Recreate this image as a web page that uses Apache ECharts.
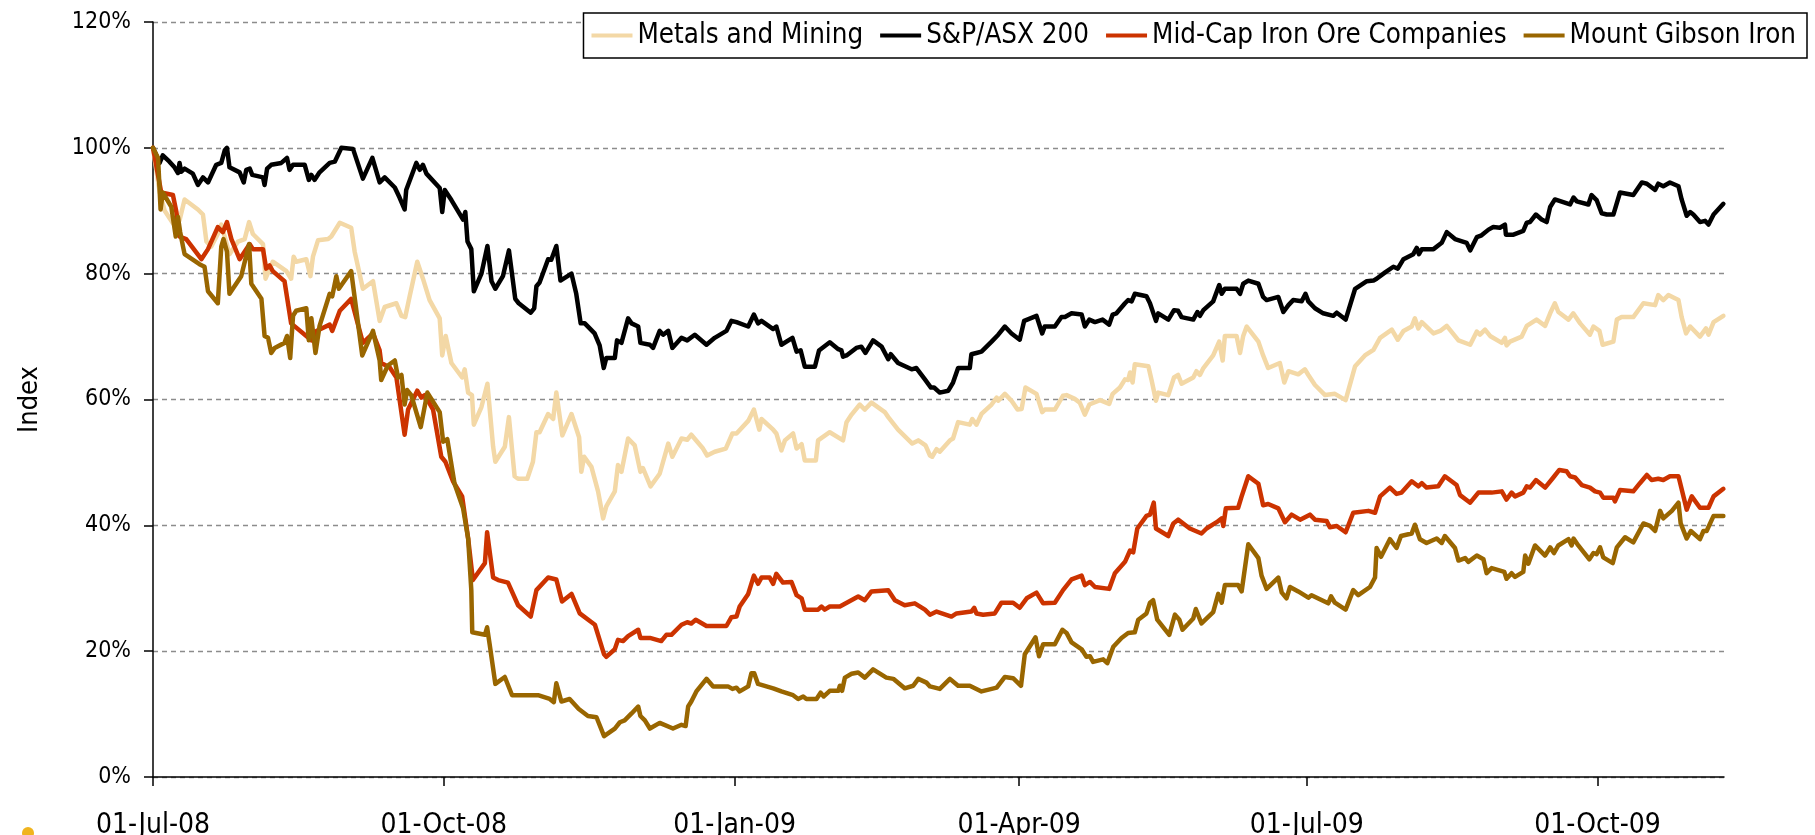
<!DOCTYPE html>
<html>
<head>
<meta charset="utf-8">
<script src="https://cdn.jsdelivr.net/npm/echarts@6/dist/echarts.min.js"></script>
<style>
  html, body { margin: 0; padding: 0; background: #fff; }
  #chart { width: 1815px; height: 835px; }
</style>
</head>
<body>
<div id="chart"></div>
<script>
// x values are days since 01-Jul-08, y values are index in %
var seriesNames = ['Metals and Mining', 'S&P/ASX 200', 'Mid-Cap Iron Ore Companies', 'Mount Gibson Iron'];
var seriesColors = ['#F3D8A6', '#000000', '#CC3300', '#996600'];

var tickDays = [0, 92, 184, 274, 365, 457];
var tickLabels = ['01-Jul-08', '01-Oct-08', '01-Jan-09', '01-Apr-09', '01-Jul-09', '01-Oct-09'];

var metals = [
    [0,100],[2.1,93],[3.7,90],[6.3,88],[8.4,88.5],[10,91.8],[12.1,91],[14.2,90.2],[15.8,89.4],[16.9,85.1],[18.4,84.3],
    [20.5,86.3],[21.6,87.8],[24.2,83.1],[26.9,85.1],[29,85.5],[30.4,88.2],[31.6,86.3],[34.8,84.7],[35.6,79.2],[37.9,81.9],
    [42.2,80.4],[43.7,79.2],[44.5,82.7],[45.3,81.9],[48.5,82.3],[49.8,79.6],[50.6,82.7],[52.2,85.3],[55.4,85.5],[56.4,85.9],
    [59.1,88.1],[62.7,87.3],[63.8,83.5],[66.4,77.6],[69.6,78.8],[71.7,72.5],[73.3,74.7],[77,75.3],[78.6,73.3],[79.8,73.1],
    [81.2,76.4],[83.6,81.9],[85.4,79.2],[87.5,75.8],[90.7,72.9],[91.5,67],[92.6,70.1],[94.4,65.8],[97.8,63.5],[98.6,64.8],
    [99.7,61.1],[100.9,60.7],[101.5,56],[103.9,58.8],[105.8,62.5],[107.6,52.5],[108.3,50.1],[111.3,52.5],[112.6,57.2],
    [114.4,47.8],[115.5,47.4],[118.4,47.4],[120.2,50.1],[121.3,54.8],[122.3,54.8],[125,57.7],[126.6,56.9],[127.6,61.1],
    [129.5,54.3],[132.4,57.7],[134.8,54],[135.5,48.5],[136.4,50.9],[138.7,49.3],[140.8,45.4],[142.4,41.1],[143.4,43],
    [146.1,45.4],[147.1,49.6],[148.2,48.5],[150.3,53.8],[152.4,52.7],[154.2,48.5],[155,49.1],[157.4,46.2],[160.3,48.2],
    [163,53],[164.3,50.9],[167.2,53.8],[169,53.6],[170.3,54.4],[174,52.2],[175.3,51.1],[177.7,51.7],[181.2,52.2],[183.3,54.6],
    [184.6,54.6],[188.3,56.6],[190.1,58.4],[191.8,55.2],[192.5,56.9],[196.2,55.2],[197.2,54.6],[198.8,51.9],[199.9,53.5],
    [202.5,54.6],[203.6,52.2],[205.2,52.9],[206.2,50.3],[209.7,50.3],[210.4,53.5],[214.1,54.8],[218.3,53.5],[219.4,56.4],
    [221,57.6],[223.6,59.2],[225.2,58.4],[227.3,59.5],[231.5,58],[232.6,57.2],[235.7,55.2],[240.2,53],[242.1,53.5],[244.4,52.7],
    [245.8,51.1],[246.5,50.9],[247.9,52.1],[248.9,51.7],[252.1,53.5],[253.1,53.8],[254.7,56.4],[258.4,56],[259.2,56.9],
    [260.5,56],[262.1,57.7],[265.3,59.2],[266.9,60.3],[267.4,59.8],[269.5,60.9],[271.6,59.8],[273.5,58.4],[274.8,58.5],
    [276,61.9],[279.5,60.9],[281.3,58],[282.1,58.4],[285.3,58.4],[287.9,60.6],[289,60.7],[291.6,60.1],[293.2,59.5],[294.8,57.6],
    [296.2,59.2],[299.6,59.9],[302.5,59.3],[303.6,60.9],[305.9,61.9],[307.5,63.2],[308.5,63.1],[309.1,64.3],[309.9,62.7],
    [310.6,65.6],[314.9,65.3],[315.9,63.1],[317.3,59.8],[318,61.1],[321.2,60.7],[323,63.5],[324.3,63.9],[325.4,62.5],
    [329.1,63.5],[330.1,64.5],[331.2,63.9],[332.3,65],[335.4,67],[337.3,69.2],[338.4,66.2],[339.1,70.1],[342.8,70.1],
    [343.9,67.4],[344.9,70.1],[346,71.6],[349.7,69.2],[351.2,67],[352.8,65],[356.5,65.8],[357.9,62.7],[359.2,64.5],[362.3,64],
    [364.4,64.8],[365.5,63.9],[367.6,62.3],[370.8,60.7],[373.9,60.9],[377.3,59.9],[380.3,65.3],[383.4,67],[386.1,67.9],
    [388.2,69.8],[391.9,71.1],[393.8,69.5],[395.6,70.9],[398.2,71.6],[399.2,72.9],[400.3,71.3],[401.4,72.3],[405.1,70.5],
    [407.2,70.9],[409.3,71.7],[413,69.4],[416.7,68.7],[418.8,70.8],[419.8,70.3],[421.4,71.1],[423,70.1],[426.7,69],[427.7,69.8],
    [428.2,68.6],[429.3,69.2],[433,70],[434.6,71.7],[437.7,72.7],[440.4,71.7],[442,73.7],[443.5,75.3],[444.6,73.9],[447.8,72.7],
    [449.3,73.7],[451.5,72.1],[454.6,70.3],[455.7,71.6],[457.6,70.9],[458.6,68.7],[462,69.2],[463.1,72.7],[464.6,73.1],
    [468.3,73.1],[471.5,75.3],[475.2,75],[476.2,76.6],[477.8,75.8],[479.4,76.6],[482.6,75.8],[483.6,73.1],[485,70.5],
    [486.3,71.6],[489.4,70],[491.3,71.3],[492.1,70.3],[493.7,72.3],[496.8,73.3]
];

var asx200 = [
    [0,100],[2.1,97.6],[3.1,98.8],[5.2,97.8],[6.8,96.9],[7.9,96],[8.4,97.6],[8.9,96.2],[10,96.7],[12.6,95.9],[14.2,94.1],
    [15.8,95.3],[17.4,94.5],[20,97.3],[21.6,97.6],[22.7,99.6],[23.4,100],[24.2,96.9],[27.4,96.1],[28.7,94.5],[29.5,96.5],
    [30.6,96.7],[31.4,95.7],[34.8,95.3],[35.3,94.1],[36.1,96.7],[37.4,97.3],[40.6,97.6],[42.4,98.4],[43.2,96.5],[44.3,97.3],
    [48,97.3],[49.3,94.9],[50.1,95.7],[51.1,94.9],[52.7,96.1],[55.9,97.6],[57.5,97.8],[59.6,100],[63.3,99.8],[66.4,95.1],
    [69.4,98.4],[71.7,94.5],[73.3,95.3],[76.5,93.7],[78,92.1],[79.6,90.2],[80.1,93.3],[83.3,97.6],[84.4,96.5],[85.4,97.3],
    [86.5,95.9],[90.7,93.6],[91.5,89.8],[92.3,93.3],[94.4,91.7],[98.1,88.6],[98.8,89.8],[99.5,85.1],[100.7,83.9],[101.5,77.2],
    [103.9,80],[105.8,84.4],[107.1,78.8],[108.3,77.6],[110.7,79.6],[112.6,83.7],[114.6,76],[115.7,75.3],[119.5,73.8],
    [120.6,74.5],[121.3,78],[122.3,78.6],[125,82.3],[126,82.2],[127.6,84.4],[128.9,78.9],[132.4,80],[133.9,76.8],[135.3,72.1],
    [136.6,72.1],[139.7,70.5],[141.3,68.6],[142.6,65],[143.4,66.6],[146.1,66.6],[146.8,69.4],[148.2,69],[150.3,72.9],
    [151.4,72.1],[153.5,71.6],[154.2,69],[157.2,68.7],[158.2,68.2],[160.3,70.9],[161.4,70.3],[163,70.9],[164.3,68.2],
    [167.2,69.8],[169,69.4],[171.4,70.3],[175.1,68.7],[177.7,69.8],[181.4,70.9],[183,72.5],[184.6,72.3],[188.3,71.6],
    [190.1,73.5],[191.4,72.1],[192.5,72.5],[196.2,71.2],[197.2,71.6],[198.8,68.7],[202.3,69.8],[203.6,67.6],[204.9,67.8],
    [206.2,65.2],[209.4,65.2],[210.7,67.8],[214.1,69.1],[216.8,68],[217.8,67.8],[218.3,66.8],[219.4,67],[222.5,68.2],
    [224.1,68.4],[225.4,67.4],[227.8,69.4],[230.5,68.4],[232.6,66.4],[233.4,67.2],[235.7,65.8],[240,64.8],[241.5,65],
    [244.2,63.2],[246.1,61.9],[247.1,61.9],[248.9,61.1],[251.6,61.4],[253.1,62.7],[254.7,65],[258.4,65],[258.9,67.2],
    [260.5,67.4],[262.1,67.6],[265.3,69.2],[267.4,70.3],[269.5,71.6],[271.6,70.5],[274.2,69.5],[275.6,72.5],[279.5,73.3],
    [281.3,70.5],[282.1,71.6],[285.3,71.6],[287.4,73.1],[288.5,73.1],[290.6,73.7],[293.8,73.5],[294.8,71.6],[296.2,72.7],
    [298,72.3],[300.4,72.7],[302.5,71.9],[303.6,73.5],[304.8,73.7],[307.5,75.3],[308.5,75.8],[309.6,75.6],[310.6,76.8],
    [314.3,76.4],[315.4,75.3],[317.3,72.5],[318,73.7],[321.2,72.7],[323,74.2],[324.3,74.1],[325.4,73.1],[329.1,72.7],
    [330.4,73.9],[331.2,73.3],[332.3,74.2],[335.4,75.6],[337.3,78.2],[338.1,76.8],[339.1,77.6],[342.8,77.6],[343.9,76.8],
    [344.9,78.4],[346.5,78.9],[349.7,78.4],[351.2,76.3],[352.3,75.8],[356,76.3],[357.6,73.9],[359.2,75],[360.7,75.8],
    [363.4,75.6],[364.6,76.8],[365.5,75.6],[367.6,74.5],[370.2,73.7],[373.4,73.3],[374.5,73.8],[377.3,72.7],[380.3,77.6],
    [384,78.8],[386.1,78.9],[387.1,79.2],[389.8,80.2],[392.4,81.1],[393.8,80.8],[395.6,82.3],[398.7,83.1],[399.8,84.1],
    [400.5,83.1],[401.4,83.9],[405.1,83.9],[407.7,84.9],[409.3,86.6],[411.9,85.5],[415.6,84.9],[416.7,83.7],[418.8,85.8],
    [420.3,86.1],[422.5,87],[424,87.4],[426.1,87.3],[427.7,87.8],[428,86.2],[430.4,86.2],[433.5,86.8],[434.6,88.1],
    [435.6,88.2],[437.5,89.4],[439.3,88.6],[440.9,88.2],[442,90.6],[443.5,91.8],[448.3,91],[449.4,92.1],[450.4,91.5],
    [454.1,91],[455.1,92.5],[456.7,91.7],[458.3,89.6],[459.9,89.4],[462,89.4],[464.1,92.9],[468.3,92.5],[471,94.5],
    [472.6,94.3],[475.2,93.3],[476.2,94.3],[477.8,93.9],[479.9,94.5],[482.6,93.9],[483.6,91.8],[485.2,89.2],[486.3,89.8],
    [487.3,89.4],[489.4,88.2],[491,88.4],[492.1,87.8],[493.7,89.4],[496.8,91.1]
];

var midCap = [
    [0,100],[2.6,92.9],[6.3,92.5],[7.4,89.8],[8.4,85.9],[10.5,85.5],[15.3,82.3],[17.4,83.9],[20.5,87.4],[22.1,86.6],
    [23.4,88.2],[24.8,85.5],[27.4,82.3],[30.6,84.7],[31.6,83.9],[34.8,83.9],[35.8,80.8],[36.9,81.3],[37.9,80.4],[41.6,78.8],
    [43.7,72.1],[48.5,70.1],[50.1,69.4],[51.7,70.9],[55.9,71.9],[56.7,70.9],[59.1,74.1],[62.7,76],[66.4,69],[69.6,70.5],
    [71.7,67.8],[72.2,65.8],[74.9,65.1],[77,63.5],[79.6,54.4],[80.7,58.4],[83.6,61.4],[84.9,60.3],[86,60.7],[88.6,58.4],
    [91.2,50.9],[92.5,50.1],[94.9,47],[97.8,44.6],[99.7,37.9],[101.2,31.3],[105,34],[105.7,38.9],[107.6,31.7],[109.2,31.3],
    [112.3,30.9],[115.5,27.3],[119.5,25.5],[121.3,29.7],[125,31.7],[127.6,31.4],[129.4,27.9],[132.4,29.1],[135,26],
    [139.8,24.2],[142.7,19.5],[143.4,19.1],[146.1,20.3],[147.1,21.8],[148.7,21.6],[150.3,22.4],[153.5,23.4],[154.2,22.1],
    [157.2,22.1],[160.8,21.6],[162.4,22.6],[164,22.6],[167.2,24.2],[169,24.6],[170.3,24.4],[171.7,25],[175.1,24],[181.4,24],
    [183,25.4],[184.6,25.5],[185.6,27.1],[188.3,29.1],[190.1,32],[191.4,30.7],[192.5,31.7],[195.1,31.7],[196.2,30.7],
    [197.2,32.3],[199.3,30.9],[202,31],[203.6,28.9],[205.2,28.4],[206.2,26.6],[210.4,26.6],[211.5,27.1],[212.5,26.6],
    [214.1,27.1],[217.3,27.1],[223.1,28.7],[225.2,28.1],[227.3,29.5],[232.6,29.7],[234.7,28.1],[237.8,27.3],[241,27.6],
    [244.2,26.6],[245.8,25.8],[247.9,26.3],[252.6,25.5],[254.2,26],[258.9,26.3],[259.8,26.9],[260.5,26],[262.6,25.8],
    [266.3,26],[268.4,27.7],[272.1,27.7],[274.2,26.9],[276.4,28.4],[279.5,29.3],[281.6,27.6],[285.3,27.7],[287.9,29.7],
    [290.6,31.4],[293.8,32],[294.8,30.5],[296.4,31],[298,30.2],[302.5,29.9],[304.3,32.4],[307.5,34.2],[309.1,36],[310.1,35.7],
    [311.4,39.5],[314.3,41.5],[315.4,41.7],[316.6,43.6],[317.3,39.5],[321.2,38.3],[322.8,40.3],[324.3,40.9],[328,39.5],
    [331.7,38.7],[333.3,39.5],[336.5,40.5],[338.1,41.1],[338.6,39.9],[339.4,42.7],[343.3,42.8],[344.4,44.6],[346.5,47.8],
    [349.7,46.6],[351.2,43.2],[352.8,43.4],[356,42.7],[358.1,40.5],[360.2,41.7],[362.9,40.9],[366,41.7],[367.6,40.9],
    [371.3,40.7],[372.3,39.7],[374.5,39.9],[377.3,38.9],[379.7,42],[384.5,42.3],[386.6,42],[388.2,44.6],[391.3,46],[393.4,45],
    [395,45.2],[398.2,47],[400.3,46.2],[401.4,46.7],[402.9,46],[406.6,46.2],[408.7,47.8],[412.4,46.4],[413.5,44.8],
    [416.7,43.6],[419.3,45.2],[423.5,45.2],[426.7,45.4],[428.2,44.1],[429.8,45.2],[430.9,44.6],[433.5,45.2],[434.6,46.2],
    [435.6,46],[437.5,47.2],[440.4,46],[443,47.6],[444.9,48.8],[447.2,48.6],[448.3,47.8],[449.9,47.6],[452,46.4],[454.6,46],
    [456.2,45.4],[457.8,45.2],[458.8,44.4],[462,44.4],[462.5,43.8],[464.1,45.6],[468.3,45.4],[470.4,46.7],[472.6,48],
    [474.1,47.2],[476.2,47.4],[477.8,47.2],[479.9,47.8],[482.6,47.8],[485.2,42.5],[486.8,44.6],[489.4,42.8],[492.1,42.8],
    [493.7,44.6],[496.8,45.8]
];

var mountGibson = [
    [0,100],[1.6,98.4],[2.4,90.2],[3.1,92.9],[5.8,90.6],[7.2,85.9],[7.9,89],[8.6,86.6],[9.5,84.3],[10,83.1],[14.7,81.5],
    [16.3,81.1],[17.4,77.2],[20.5,75.3],[21.6,84.3],[22.3,85.5],[23.4,83.5],[24.2,76.8],[27.9,79.6],[30.4,84.7],[31.1,78.4],
    [34.3,76],[35.3,70.1],[36.4,69.8],[37.4,67.4],[38.5,68.2],[41.6,69],[42.4,70.1],[43.4,66.6],[44.3,73.3],[45.3,74.1],
    [48.5,74.5],[49.3,69.4],[50.1,72.9],[51.4,67.4],[52.7,71.7],[55.9,76.8],[56.7,76.4],[58,79.6],[58.8,77.6],[59.9,78.4],
    [62.7,80.4],[66.2,67],[69.6,70.9],[71.7,66.2],[72.2,63.1],[74.3,65.4],[76.5,66.2],[77.5,63.5],[78.6,63.9],[79.6,59.2],
    [80.4,61.5],[81.7,60.7],[84.7,55.6],[86.8,61.1],[90.7,58],[91.8,53.3],[93.1,53.7],[95.4,46.6],[98.1,42.7],[99.7,37.9],
    [100.7,29.7],[101,23],[105,22.6],[105.7,23.8],[106.5,21.1],[108.3,14.8],[111.3,15.9],[113.6,13],[121.8,13],[125.5,12.4],
    [126.8,11.9],[127.6,14.9],[129.2,12],[131.8,12.4],[134.7,10.8],[137.6,9.7],[140.3,9.5],[142.7,6.5],[143.2,6.4],
    [146.1,7.7],[147.7,8.7],[149.2,9],[151.4,10.1],[153.5,11.2],[154.2,9.7],[155.6,9],[157.2,7.7],[160.3,8.6],[164.5,7.7],
    [167.2,8.3],[168.5,8.1],[169.3,11.2],[170.3,12],[171.9,13.6],[175.1,15.6],[177.2,14.4],[181.9,14.4],[183.3,14],
    [184.6,14.2],[185.6,13.6],[188.3,14.4],[189.3,16.5],[190.2,16.5],[191.4,14.8],[196.2,14.1],[198.8,13.6],[202.5,13],
    [204.1,12.4],[205.7,12.8],[206.7,12.4],[209.9,12.4],[211.2,13.4],[212.2,12.8],[214.1,13.7],[216.8,13.7],[217.3,14.5],
    [218,13.7],[218.9,15.8],[221,16.4],[223.1,16.6],[225.2,15.8],[227.8,17.1],[232,15.8],[234.2,15.6],[237.8,14.1],
    [240.5,14.5],[242.1,15.6],[244.7,15],[245.8,14.4],[248.9,14],[252.1,15.6],[254.7,14.5],[258.4,14.5],[262.1,13.6],
    [266.9,14.2],[269.5,15.9],[272.1,15.7],[274.6,14.5],[275.8,19.5],[279.2,22.2],[280.3,19.2],[281.6,21.1],[285.3,21.1],
    [287.7,23.4],[289,22.9],[290.6,21.4],[293.8,20.3],[295.3,19.1],[296.4,19.2],[297.4,18.3],[300.6,18.7],[301.9,18.1],
    [303.8,20.7],[306.4,22.1],[308.5,22.9],[310.6,23],[311.7,25],[314.3,26],[315.4,27.7],[316.4,28.1],[317.7,25],[321.5,22.6],
    [323.3,25.8],[324.7,25],[325.7,23.4],[329.1,25.2],[329.9,26.7],[331.7,24.4],[335.4,26.2],[337,29.1],[338.1,27.7],
    [339.1,30.5],[343.3,30.5],[344.4,29.5],[346.5,37],[349.7,34.8],[350.7,32],[352.3,29.9],[356,31.7],[357.1,29.3],
    [358.6,28.4],[359.7,30.2],[362.3,29.5],[365.5,28.5],[366.5,28.9],[371.8,27.6],[372.7,28.7],[373.9,27.7],[377.3,26.6],
    [379.7,29.7],[381.3,28.9],[385,30.2],[386.6,31.7],[387.1,36.4],[388.5,35],[391.3,37.8],[393.4,36.4],[394.8,38.3],
    [398.2,38.7],[399.2,40.1],[400.8,37.8],[402.9,37.2],[406.1,37.9],[407.7,37.2],[408.7,38.3],[411.9,36.4],[413,34.4],
    [415.1,34.8],[416.1,34.2],[418.8,35.2],[420.9,34.6],[421.9,32.4],[423.5,33.2],[427.5,32.6],[428.2,31.5],[429.8,32.4],
    [430.9,31.8],[433.5,32.6],[434.1,35.2],[435.1,33.9],[437.2,36.8],[440.4,35.2],[442,36.5],[443.2,35.6],[444.6,36.8],
    [447.8,37.8],[448.8,36.8],[449.4,37.9],[450.9,36.8],[454.4,34.6],[455.7,35.6],[456.7,35.4],[457.8,36.5],[458.8,34.9],
    [461.8,34],[463.1,36.5],[465.7,38.1],[468.3,37.3],[471.5,40.3],[473.6,39.9],[475.2,39.1],[476.8,42.3],[477.8,41.1],
    [480.5,42.3],[482.6,43.6],[483.3,40.3],[485.2,37.9],[486.5,39.1],[489.4,37.8],[490.5,39.1],[491.5,39.1],[493.7,41.5],
    [496.8,41.5]
];

var FONT = "'DejaVu Sans Condensed', 'DejaVu Sans'";

var myChart = echarts.init(document.getElementById('chart'), null, { renderer: 'canvas' });

function makeLine(name, data, color) {
    return {
        name: name,
        type: 'line',
        data: data,
        showSymbol: false,
        symbol: 'none',
        lineStyle: { color: color, width: 4.5, join: 'round', cap: 'round' },
        itemStyle: { color: color },
        emphasis: { disabled: true }
    };
}

var option = {
    animation: false,
    backgroundColor: '#ffffff',
    // corner of a logo that is cut off at the bottom-left edge
    graphic: [{
        type: 'circle',
        left: 22,
        top: 827,
        shape: { r: 6 },
        style: { fill: '#F0B41E' },
        silent: true
    }],
    legend: {
        top: 13,
        right: 8,
        icon: 'rect',
        itemWidth: 41,
        itemHeight: 4,
        itemGap: 17,
        padding: [7, 11, 7, 8],
        borderColor: '#000',
        borderWidth: 1.5,
        backgroundColor: '#fff',
        textStyle: { fontFamily: FONT, fontSize: 27.5, color: '#000', lineHeight: 31 },
        data: seriesNames
    },
    grid: {
        left: 153,
        right: 91,
        top: 22,
        bottom: 58,
        containLabel: false,
        outerBoundsMode: 'none'
    },
    xAxis: {
        type: 'value',
        min: 0,
        max: 497,
        splitLine: { show: false },
        axisLine: { show: true, lineStyle: { color: '#000', width: 1.5 } },
        axisTick: { show: true, length: 9, customValues: tickDays, lineStyle: { color: '#000', width: 1.5 } },
        axisLabel: {
            customValues: tickDays,
            margin: 35,
            fontFamily: FONT,
            fontSize: 28,
            color: '#000',
            formatter: function (v) {
                var i = tickDays.indexOf(Math.round(v));
                return i >= 0 ? tickLabels[i] : '';
            }
        }
    },
    yAxis: {
        type: 'value',
        min: 0,
        max: 120,
        interval: 20,
        name: 'Index',
        nameLocation: 'middle',
        nameGap: 110,
        nameTextStyle: { fontFamily: FONT, fontSize: 27, color: '#000' },
        axisLine: { show: true, lineStyle: { color: '#000', width: 1.5 } },
        axisTick: { show: true, length: 9, lineStyle: { color: '#000', width: 1.5 } },
        axisLabel: { margin: 22, fontFamily: FONT, fontSize: 23, color: '#000', formatter: '{value}%' },
        splitLine: { show: true, lineStyle: { color: '#8c8c8c', width: 1.3, type: [5, 4] } }
    },
    series: [
        makeLine(seriesNames[0], metals, seriesColors[0]),
        makeLine(seriesNames[1], asx200, seriesColors[1]),
        makeLine(seriesNames[2], midCap, seriesColors[2]),
        makeLine(seriesNames[3], mountGibson, seriesColors[3])
    ]
};

myChart.setOption(option);
</script>
</body>
</html>
